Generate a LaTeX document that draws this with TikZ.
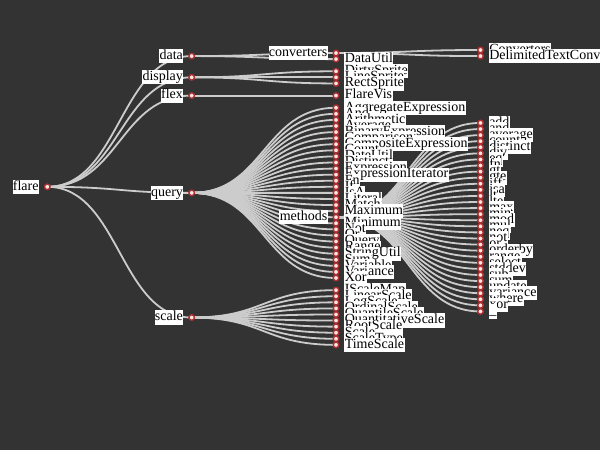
\documentclass[tikz,border=0pt]{standalone}
\usepackage{fontspec}
\setmainfont{Liberation Serif}
\usepackage{tikz}
\usetikzlibrary{calc}
\pgfdeclarelayer{backdrop}
\pgfdeclarelayer{links}
\pgfsetlayers{backdrop,links,main}
\definecolor{canvas}{HTML}{333333}
\definecolor{wirecol}{HTML}{CCCCCC}
\definecolor{ringcol}{HTML}{B03030}
\definecolor{dotfill}{HTML}{FFE6E6}
\tikzset{
    % tree vertex, a small ringed dot
    vertex/.style={circle, draw=ringcol, fill=dotfill, line width=1.4pt,
        inner sep=0pt, minimum size=5.5pt},
    % white tag behind a name
    tag/.style={fill=white, text=black, inner sep=0.4pt, text height=10pt,
        text depth=3.4pt, font=\fontsize{14}{16}\selectfont},
    % vertices with children name themselves on the left, leaves on the right
    hub/.style={vertex, label={[tag, label distance=4.7pt]left:{#1}}},
    leaf/.style={vertex, label={[tag, label distance=4.7pt]right:{#1}}},
    % curved tree links
    link/.style={draw=wirecol, line width=1.8pt},
}
% horizontal s-shaped link from parent to child
\newcommand{\branch}[2]{%
    \begin{pgfonlayer}{links}
        \draw[link] (#1.center) .. controls +(72.2,0) and +(-72.2,0) .. (#2.center);
    \end{pgfonlayer}}

\begin{document}
\begin{tikzpicture}[x=1pt, y=-1pt]

    \begin{pgfonlayer}{backdrop}
        \fill[canvas] (0,0) rectangle (600,450);
    \end{pgfonlayer}
    \useasboundingbox (0,0) rectangle (600,450);

    % ---- root and packages ----
    \node[hub=flare]   (flare)   at (47.3, 186.8)  {};
    \node[hub=data]    (data)    at (191.7, 56.08)  {};
    \node[hub=display] (display) at (191.7, 77.36)  {};
    \node[hub=flex]    (flex)    at (191.7, 95.6)   {};
    \node[hub=query]   (query)   at (191.7, 192.88) {};
    \node[hub=scale]   (scale)   at (191.7, 317.52) {};
    \foreach \p in {data,display,flex,query,scale}{ \branch{flare}{\p} }

    % ---- data / display / flex ----
    \node[hub=converters] (converters) at (336, 53.04) {};
    \node[leaf=DataUtil]  (DataUtil)   at (336, 59.12) {};
    \foreach \c in {converters,DataUtil}{ \branch{data}{\c} }
    \foreach \n [count=\i] in {DirtySprite,LineSprite,RectSprite}{
        \node[leaf=\n] (\n) at (336, {53.04+6.08*(2+\i)}) {};
        \branch{display}{\n}
    }
    \node[leaf=FlareVis] (FlareVis) at (336, 95.6) {};
    \branch{flex}{FlareVis}

    % ---- query ----
    \foreach \n [count=\i] in {AggregateExpression,And,Arithmetic,Average,
        BinaryExpression,Comparison,CompositeExpression,Count,DateUtil,Distinct,
        Expression,ExpressionIterator,Fn,If,IsA,Literal,Match,Maximum}{
        \node[leaf=\n] (\n) at (336, {53.04+6.08*(8+\i)}) {};
        \branch{query}{\n}
    }
    \node[hub=methods] (methods) at (336, 217.2) {};
    \branch{query}{methods}
    \foreach \n [count=\i] in {Minimum,Not,Or,Query,Range,StringUtil,Sum,
        Variable,Variance,Xor}{
        \node[leaf=\n] (\n) at (336, {53.04+6.08*(27+\i)}) {};
        \branch{query}{\n}
    }

    % ---- scale ----
    \foreach \n [count=\i] in {IScaleMap,LinearScale,LogScale,OrdinalScale,
        QuantileScale,QuantitativeScale,RootScale,Scale,ScaleType,TimeScale}{
        \node[leaf=\n] (\n) at (336, {53.04+6.08*(38+\i)}) {};
        \branch{scale}{\n}
    }

    % ---- converters ----
    \node[leaf=Converters]             (Converters) at (480.5, 50.0)  {};
    \node[leaf=DelimitedTextConverter] (Delimited)  at (480.5, 56.08) {};
    \foreach \c in {Converters,Delimited}{ \branch{converters}{\c} }

    % ---- methods ----
    \foreach \n [count=\i] in {add,and,average,count,distinct,div,eq,fn,gt,gte,
        iff,isa,lt,lte,max,min,mod,mul,neq,not,or,orderby,range,select,stddev,
        sub,sum,update,variance,where,xor,\_}{
        \node[leaf=\n] (m\i) at (480.5, {53.04+6.08*(10.5+\i)}) {};
        \branch{methods}{m\i}
    }

\end{tikzpicture}
\end{document}
